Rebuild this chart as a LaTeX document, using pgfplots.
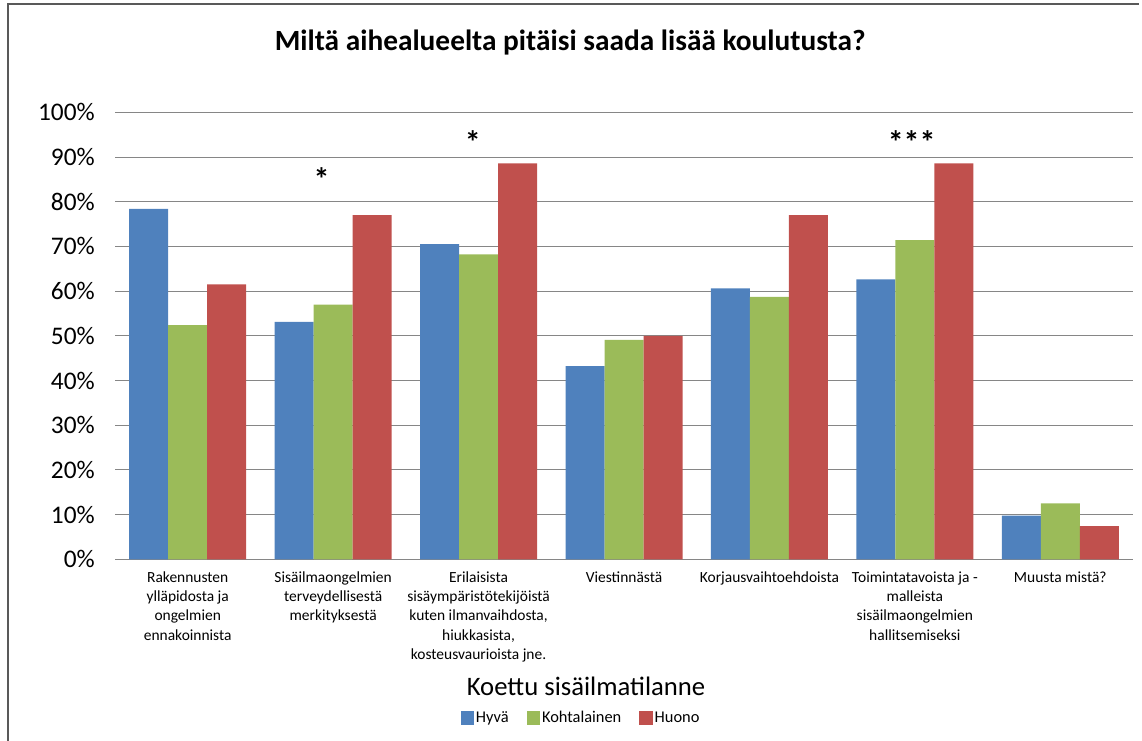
\documentclass[border=0pt]{standalone}
\usepackage{pgfplots}
\pgfplotsset{compat=1.18}
\usepackage{fontspec}
\setmainfont{Carlito}
\definecolor{cblue}{HTML}{4F81BD}
\definecolor{cgreen}{HTML}{9BBB59}
\definecolor{cred}{HTML}{C0504D}
\definecolor{cgrid}{HTML}{868686}
\begin{document}
\begin{tikzpicture}
\useasboundingbox (0pt,0pt) rectangle (856.5pt,-555pt);
\draw[black!65, line width=1.5pt] (6pt,-556pt) -- (6pt,-3pt) -- (854pt,-3pt);
\begin{axis}[
  at={(86.25pt,-419.475pt)}, anchor=south west,
  scale only axis, width=763.5pt, height=335.25pt,
  ybar=0pt, bar width=29.25pt,
  xmin=-0.5, xmax=6.5, ymin=0, ymax=100,
  xtick={0,...,6},
  xticklabels={{Rakennusten\\ylläpidosta ja\\ongelmien\\ennakoinnista},
               {Sisäilmaongelmien\\terveydellisestä\\merkityksestä},
               {Erilaisista\\sisäympäristötekijöistä\\kuten ilmanvaihdosta,\\hiukkasista,\\kosteusvaurioista jne.},
               {Viestinnästä},
               {Korjausvaihtoehdoista},
               {Toimintatavoista ja -\\malleista\\sisäilmaongelmien\\hallitsemiseksi},
               {Muusta mistä?}},
  xticklabel style={align=center, font=\fontsize{11.6}{14.5}\selectfont, anchor=north, inner sep=0pt, yshift=-9pt},
  ytick={0,10,...,100},
  yticklabels={0\%,10\%,20\%,30\%,40\%,50\%,60\%,70\%,80\%,90\%,100\%},
  yticklabel style={font=\fontsize{19}{23}\selectfont, inner sep=0pt, xshift=-15pt},
  ymajorgrids, grid style={cgrid, line width=0.75pt},
  axis x line*=bottom, axis y line*=left,
  y axis line style={draw=none},
  x axis line style={cgrid, line width=0.75pt, -},
  major tick length=0pt,
  legend columns=3,
  legend image code/.code={\fill[#1] (0pt,-5pt) rectangle (10pt,5pt);},
  legend style={at={(0.4578,-0.355)}, anchor=center, draw=none,
    font=\fontsize{12.3}{14}\selectfont,
    /tikz/every even column/.append style={column sep=12pt},
    nodes={inner sep=1.5pt}},
  clip=false,
]
\addplot[fill=cblue, draw=none] coordinates {(0,78.4) (1,53.1) (2,70.5) (3,43.2) (4,60.6) (5,62.6) (6,9.8)};
\addplot[fill=cgreen, draw=none] coordinates {(0,52.4) (1,57.0) (2,68.2) (3,49.1) (4,58.7) (5,71.4) (6,12.5)};
\addplot[fill=cred, draw=none] coordinates {(0,61.5) (1,77.0) (2,88.6) (3,50.0) (4,77.0) (5,88.6) (6,7.4)};
\legend{Hyvä, Kohtalainen, Huono}
\node[font=\fontsize{24}{28}\selectfont\bfseries, anchor=north, inner sep=0pt] at (axis cs:0.921,87.8) {*};
\node[font=\fontsize{24}{28}\selectfont\bfseries, anchor=north, inner sep=0pt] at (axis cs:1.96,95.9) {*};
\node[font=\fontsize{24}{28}\selectfont\bfseries, anchor=north, inner sep=0pt] at (axis cs:4.978,95.9) {***};
\node[font=\fontsize{22}{26}\selectfont\bfseries] at (axis description cs:0.447,1.157) {Miltä aihealueelta pitäisi saada lisää koulutusta?};
\node[font=\fontsize{20}{24}\selectfont] at (axis description cs:0.4627,-0.2852) {Koettu sisäilmatilanne};
\end{axis}
\end{tikzpicture}
\end{document}
